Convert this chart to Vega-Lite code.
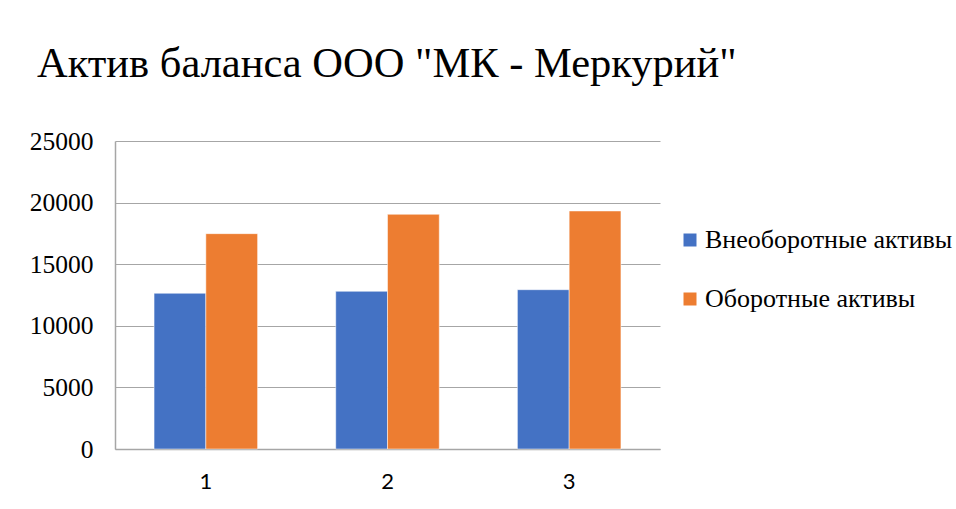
{
  "$schema": "https://vega.github.io/schema/vega-lite/v6.json",
  "autosize": {"type": "none"},
  "padding": {"left": 115, "top": 141, "right": 296, "bottom": 60},
  "width": 545,
  "height": 308,
  "background": "white",
  "title": {
    "text": "Актив баланса ООО \"МК - Меркурий\"",
    "anchor": "start",
    "frame": "group",
    "dx": -78,
    "offset": 44,
    "font": "Liberation Serif",
    "fontSize": 42.5,
    "fontWeight": "normal",
    "color": "black"
  },
  "data": {
    "values": [
      {"period": "1", "series": "Внеоборотные активы", "value": 12640},
      {"period": "1", "series": "Оборотные активы", "value": 17480},
      {"period": "2", "series": "Внеоборотные активы", "value": 12800},
      {"period": "2", "series": "Оборотные активы", "value": 19050},
      {"period": "3", "series": "Внеоборотные активы", "value": 12930},
      {"period": "3", "series": "Оборотные активы", "value": 19320}
    ]
  },
  "mark": {"type": "bar", "stroke": "white", "strokeWidth": 0.5},
  "encoding": {
    "x": {
      "field": "period",
      "type": "nominal",
      "scale": {"paddingInner": 0.43, "paddingOuter": 0.215},
      "axis": {
        "title": null,
        "labelAngle": 0,
        "labelFont": "Lato",
        "labelFontSize": 22,
        "labelColor": "black",
        "labelPadding": 22,
        "ticks": false,
        "domainColor": "#a6a6a6",
        "domainWidth": 1.5
      }
    },
    "xOffset": {
      "field": "series",
      "type": "nominal",
      "scale": {"paddingInner": 0, "paddingOuter": 0}
    },
    "y": {
      "field": "value",
      "type": "quantitative",
      "scale": {"domain": [0, 25000]},
      "axis": {
        "title": null,
        "values": [0, 5000, 10000, 15000, 20000, 25000],
        "format": "d",
        "labelFont": "Liberation Serif",
        "labelFontSize": 25.5,
        "labelColor": "black",
        "labelPadding": 22,
        "ticks": false,
        "domain": true,
        "domainColor": "#a6a6a6",
        "domainWidth": 1.5,
        "gridColor": "#a6a6a6",
        "gridWidth": 1
      }
    },
    "color": {
      "field": "series",
      "type": "nominal",
      "scale": {
        "domain": ["Внеоборотные активы", "Оборотные активы"],
        "range": ["#4472C4", "#ED7D31"]
      },
      "legend": {
        "title": null,
        "orient": "none",
        "legendX": 562,
        "legendY": 86,
        "symbolType": "square",
        "symbolSize": 169,
        "symbolStrokeWidth": 0,
        "labelFont": "Liberation Serif",
        "labelFontSize": 26,
        "labelColor": "black",
        "labelOffset": 2,
        "rowPadding": 33,
        "labelLimit": 400
      }
    }
  },
  "config": {
    "view": {"stroke": null}
  }
}
